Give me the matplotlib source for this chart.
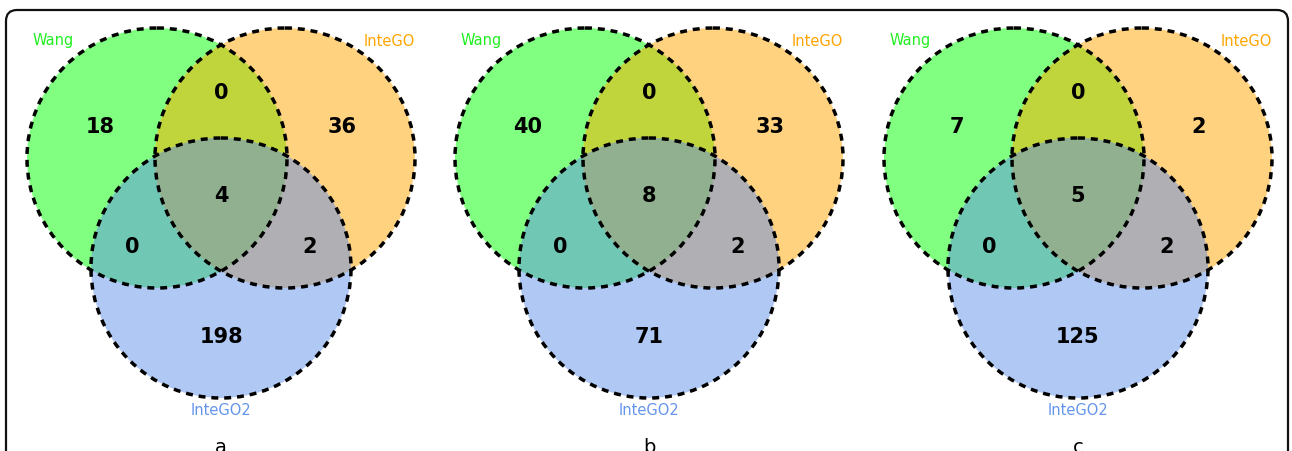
import numpy as np
import matplotlib
matplotlib.use("Agg")
import matplotlib.pyplot as plt
from matplotlib.patches import Circle, FancyBboxPatch
from matplotlib.path import Path

# data
set_names = ["Wang", "InteGO", "InteGO2"]
panel_labels = ["a", "b", "c"]
# region order: Wang only, InteGO only, Wang&InteGO, InteGO2 only, Wang&InteGO2, InteGO&InteGO2, all three
counts_a = [18, 36, 0, 198, 0, 2, 4]
counts_b = [40, 33, 0, 71, 0, 2, 8]
counts_c = [7, 2, 0, 125, 0, 2, 5]
all_counts = [counts_a, counts_b, counts_c]

# colours
name_colors = ["#22ee22", "#ffa500", "#6495ed"]
fill_single = ["#80ff80", "#ffd280", "#b0c8f4"]
fill_ab = "#c0d43c"
fill_ac = "#70c8b4"
fill_bc = "#b0b0b4"
fill_abc = "#90b090"

W, H = 1292, 452
fig = plt.figure(figsize=(W / 100, H / 100), dpi=100)
ax = fig.add_axes([0, 0, 1, 1])
ax.set_xlim(0, W)
ax.set_ylim(H, 0)
ax.set_aspect("equal")
ax.axis("off")

# outer rounded frame
frame = FancyBboxPatch((6, 11), 1282, 470, boxstyle="round,pad=0,rounding_size=11",
                       fc="white", ec="#111111", lw=1.6, zorder=0)
ax.add_patch(frame)

R = 130
dx = 64        # half distance between top circles
dy_top = -37   # top circle centres relative to panel centre
dy_bot = 73    # bottom circle centre relative to panel centre


def lens_path(c1, c2, r):
    # intersection of two equal circles side by side (same y)
    d = c2[0] - c1[0]
    t = np.arccos(d / 2 / r)
    a1 = np.linspace(-t, t, 100)
    a2 = np.linspace(np.pi - t, np.pi + t, 100)
    v1 = np.column_stack([c1[0] + r * np.cos(a1), c1[1] + r * np.sin(a1)])
    v2 = np.column_stack([c2[0] + r * np.cos(a2), c2[1] + r * np.sin(a2)])
    verts = np.vstack([v1, v2, v1[:1]])
    codes = [Path.MOVETO] + [Path.LINETO] * (len(verts) - 2) + [Path.CLOSEPOLY]
    return Path(verts, codes)


def venn(cx, cy, counts, label):
    ca = (cx - dx, cy + dy_top)
    cb = (cx + dx, cy + dy_top)
    cc = (cx, cy + dy_bot)
    centres = [ca, cb, cc]

    base = []
    for c, col in zip(centres, fill_single):
        p = Circle(c, R, fc=col, ec="none", zorder=1)
        ax.add_patch(p)
        base.append(p)

    for (i, j, col) in [(0, 1, fill_ab), (0, 2, fill_ac), (1, 2, fill_bc)]:
        p = Circle(centres[i], R, fc=col, ec="none", zorder=2)
        ax.add_patch(p)
        p.set_clip_path(base[j])

    p = Circle(cc, R, fc=fill_abc, ec="none", zorder=3)
    ax.add_patch(p)
    p.set_clip_path(lens_path(ca, cb, R), ax.transData)

    for c in centres:
        ax.add_patch(Circle(c, R, fc="none", ec="black", lw=2.5,
                            ls=(0, (2.0, 1.7)), zorder=4))

    # region numbers
    offsets = [(-121, -69), (121, -69), (0, -103), (0, 141), (-89, 51), (89, 51), (0, 0)]
    for n, (ox, oy) in zip(counts, offsets):
        ax.text(cx + ox, cy + oy, str(n), ha="center", va="center",
                fontsize=15, fontweight="bold", color="black", zorder=5)

    # set names
    ax.text(cx - 168, cy - 155, set_names[0], ha="center", va="center",
            fontsize=10.5, color=name_colors[0], zorder=5)
    ax.text(cx + 194, cy - 155, set_names[1], ha="right", va="center",
            fontsize=10.5, color=name_colors[1], zorder=5)
    ax.text(cx, cy + 215, set_names[2], ha="center", va="center",
            fontsize=10.5, color=name_colors[2], zorder=5)

    ax.text(cx, cy + 252, label, ha="center", va="center",
            fontsize=14, color="black", zorder=5)


panel_x = [221, 649, 1078]
for px, cnt, lab in zip(panel_x, all_counts, panel_labels):
    venn(px, 196, cnt, lab)

fig.savefig("out.png", dpi=100)
